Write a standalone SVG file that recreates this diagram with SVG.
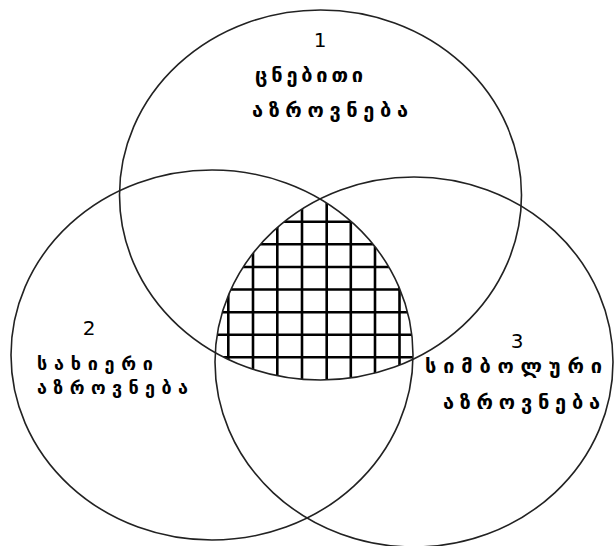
<svg xmlns="http://www.w3.org/2000/svg" width="615" height="546" viewBox="0 0 615 546">
<style>
.c{fill:none;stroke:#222;stroke-width:1.6}
.g{stroke:#000;stroke-width:2.6}
.t{font-family:"DejaVu Sans",sans-serif;font-size:20px;font-weight:bold;fill:#000}
.s{font-size:18px}
.n{font-family:"DejaVu Sans",sans-serif;font-size:20px;fill:#000;text-anchor:middle}
</style>
<defs>
<clipPath id="k1"><ellipse cx="320.5" cy="195" rx="201" ry="185"/></clipPath>
<clipPath id="k2"><ellipse cx="212" cy="355" rx="201" ry="185"/></clipPath>
<clipPath id="k3"><ellipse cx="414" cy="362" rx="199" ry="185"/></clipPath>
</defs>
<g id="hatch" clip-path="url(#k1)"><g clip-path="url(#k2)"><g clip-path="url(#k3)">
<path class="g" d="M228.3 180V400M253 180V400M277.3 180V400M302 180V400M326.7 180V400M350.8 180V400M375 180V400M399.5 180V400M204 180V400M424 180V400
M200 221.7H440M200 244.3H440M200 267H440M200 289.5H440M200 312.2H440M200 334.8H440M200 357.2H440"/>
</g></g></g>
<g id="set1">
<ellipse class="c" cx="320.5" cy="195" rx="201" ry="185"/>
<text class="n" x="320" y="47">1</text>
<text class="t" x="255" y="82" textLength="108" lengthAdjust="spacing">ცნებითი</text>
<text class="t" x="252" y="117" textLength="156" lengthAdjust="spacing">აზროვნება</text>
</g>
<g id="set2">
<ellipse class="c" cx="212" cy="355" rx="201" ry="185"/>
<text class="n" x="89" y="335">2</text>
<text class="t s" x="37" y="370" textLength="116" lengthAdjust="spacing">სახიერი</text>
<text class="t s" x="37" y="394" textLength="151" lengthAdjust="spacing">აზროვნება</text>
</g>
<g id="set3">
<ellipse class="c" cx="414" cy="362" rx="199" ry="185"/>
<text class="n" x="517" y="348">3</text>
<text class="t" x="425" y="373" textLength="177" lengthAdjust="spacing">სიმბოლური</text>
<text class="t" x="443" y="409" textLength="157" lengthAdjust="spacing">აზროვნება</text>
</g>
</svg>
